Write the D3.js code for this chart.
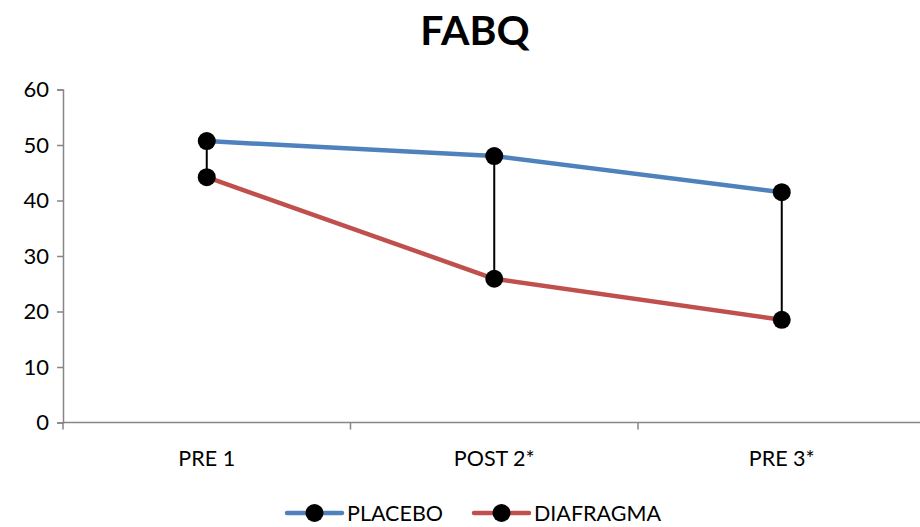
<!DOCTYPE html>
<html>
<head>
<meta charset="utf-8">
<script src="https://cdn.jsdelivr.net/npm/d3@7"></script>
<style>
  html, body { margin: 0; padding: 0; background: #fff; }
  svg { display: block; font-family: Lato, "Open Sans", sans-serif; }
</style>
</head>
<body>
<svg id="chart" width="920" height="527"></svg>
<script>
// FABQ scores per assessment
const categories = ["PRE 1", "POST 2*", "PRE 3*"];
const placebo = [50.7, 48.0, 41.5];
const diafragma = [44.2, 25.9, 18.5];
const yTicks = [0, 10, 20, 30, 40, 50, 60];
const seriesNames = ["PLACEBO", "DIAFRAGMA"];
const seriesColors = ["#4F81BD", "#C0504D"];

const FONT = "Lato, 'Open Sans', sans-serif";
const svg = d3.select("#chart");
const x = d3.scaleBand().domain(categories).range([63, 925.5]);
const y = d3.scaleLinear().domain([0, 60]).range([422.5, 89.5]);
const cx = c => x(c) + x.bandwidth() / 2;

// Title
svg.append("text")
  .attr("x", 475).attr("y", 45)
  .attr("text-anchor", "middle")
  .attr("font-family", FONT)
  .attr("font-size", 41).attr("font-weight", "bold")
  .attr("fill", "#000")
  .text("FABQ");

// Y axis
const yAxis = svg.append("g")
  .attr("transform", "translate(63,0)")
  .call(d3.axisLeft(y).tickValues(yTicks).tickSize(6).tickPadding(8));
yAxis.attr("font-family", FONT);
yAxis.select(".domain").attr("stroke", "#868686").attr("stroke-width", 1.5);
yAxis.selectAll(".tick line").attr("stroke", "#868686").attr("stroke-width", 1.5);
yAxis.selectAll(".tick text").attr("font-size", 22).attr("fill", "#000");

// X axis with ticks between categories
const xAxisG = svg.append("g").attr("transform", `translate(0,${y(0)})`);
xAxisG.append("line")
  .attr("x1", 63).attr("x2", 925.5)
  .attr("stroke", "#868686").attr("stroke-width", 1.5);
const boundaries = categories.map(c => x(c)).concat([x(categories[categories.length - 1]) + x.bandwidth()]);
xAxisG.selectAll("line.tk").data(boundaries).join("line")
  .attr("class", "tk")
  .attr("x1", d => d).attr("x2", d => d)
  .attr("y1", 0).attr("y2", 7)
  .attr("stroke", "#868686").attr("stroke-width", 1.5);
xAxisG.selectAll("text").data(categories).join("text")
  .attr("x", d => cx(d)).attr("y", 43)
  .attr("text-anchor", "middle")
  .attr("font-family", FONT)
  .attr("font-size", 21.5).attr("fill", "#000")
  .text(d => d);

// High-low lines connecting the two series
svg.append("g").selectAll("line").data(categories).join("line")
  .attr("x1", d => cx(d)).attr("x2", d => cx(d))
  .attr("y1", (d, i) => y(placebo[i]))
  .attr("y2", (d, i) => y(diafragma[i]))
  .attr("stroke", "#000").attr("stroke-width", 2);

// Series lines and markers
const line = d3.line().x(d => cx(d.c)).y(d => y(d.v));
[placebo, diafragma].forEach((vals, s) => {
  const pts = categories.map((c, i) => ({ c, v: vals[i] }));
  svg.append("path")
    .datum(pts)
    .attr("d", line)
    .attr("fill", "none")
    .attr("stroke", seriesColors[s])
    .attr("stroke-width", 4.5)
    .attr("stroke-linejoin", "round");
});
[placebo, diafragma].forEach(vals => {
  svg.append("g").selectAll("circle").data(categories).join("circle")
    .attr("cx", d => cx(d))
    .attr("cy", (d, i) => y(vals[i]))
    .attr("r", 9)
    .attr("fill", "#000");
});

// Legend
const legendX = [287, 474];
const legendY = 513;
seriesNames.forEach((name, i) => {
  const g = svg.append("g").attr("transform", `translate(${legendX[i]},${legendY})`);
  g.append("line")
    .attr("x1", 0).attr("x2", 55)
    .attr("stroke", seriesColors[i]).attr("stroke-width", 4.5)
    .attr("stroke-linecap", "round");
  g.append("circle").attr("cx", 27.5).attr("cy", 0).attr("r", 9).attr("fill", "#000");
  g.append("text")
    .attr("x", 60).attr("y", 8)
    .attr("font-family", FONT)
    .attr("font-size", 21.5).attr("fill", "#000")
    .text(name);
});
</script>
</body>
</html>
